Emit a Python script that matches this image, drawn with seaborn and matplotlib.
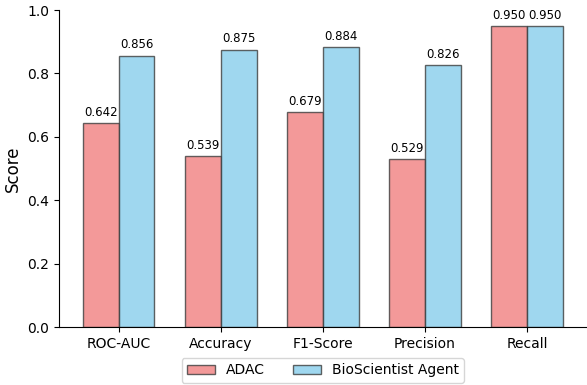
import matplotlib
matplotlib.use("Agg")
import matplotlib.pyplot as plt
import seaborn as sns
import pandas as pd

metrics = ["ROC-AUC", "Accuracy", "F1-Score", "Precision", "Recall"]
adac = [0.642, 0.539, 0.679, 0.529, 0.950]
bio = [0.856, 0.875, 0.884, 0.826, 0.950]
models = ["ADAC", "BioScientist Agent"]

df = pd.DataFrame({
    "Metric": metrics * 2,
    "Score": adac + bio,
    "Model": [models[0]] * len(metrics) + [models[1]] * len(metrics),
})

sns.set_style("ticks", {"text.color": "black", "axes.labelcolor": "black",
                        "xtick.color": "black", "ytick.color": "black",
                        "axes.edgecolor": "black"})
plt.rcParams['font.family'] = ['DejaVu Sans']
fig = plt.figure(figsize=(5.87, 3.85), dpi=100)
ax = fig.add_axes([0.1005, 0.1506, 0.899, 0.8234])

palette = {"ADAC": "lightcoral", "BioScientist Agent": "skyblue"}
sns.barplot(data=df, x="Metric", y="Score", hue="Model", palette=palette,
            width=0.7, alpha=0.8, edgecolor="#333333", linewidth=1.0, ax=ax,
            saturation=1)
for p in ax.patches:
    p.set_edgecolor("#3c3c3c")
for c in ax.containers:
    ax.bar_label(c, fmt="%.3f", fontsize=8.5, padding=3, color="black")

ax.set_xlim(-0.585, 4.585)
ax.set_ylim(0, 1.0)
ax.set_xlabel("")
ax.set_ylabel("Score", fontsize=12)
ax.tick_params(axis="both", labelsize=10)
sns.despine(ax=ax)
ax.legend(loc="upper center", bbox_to_anchor=(0.5, -0.075), ncol=2, fontsize=10,
          frameon=True)

fig.savefig("out.png", dpi=100)
